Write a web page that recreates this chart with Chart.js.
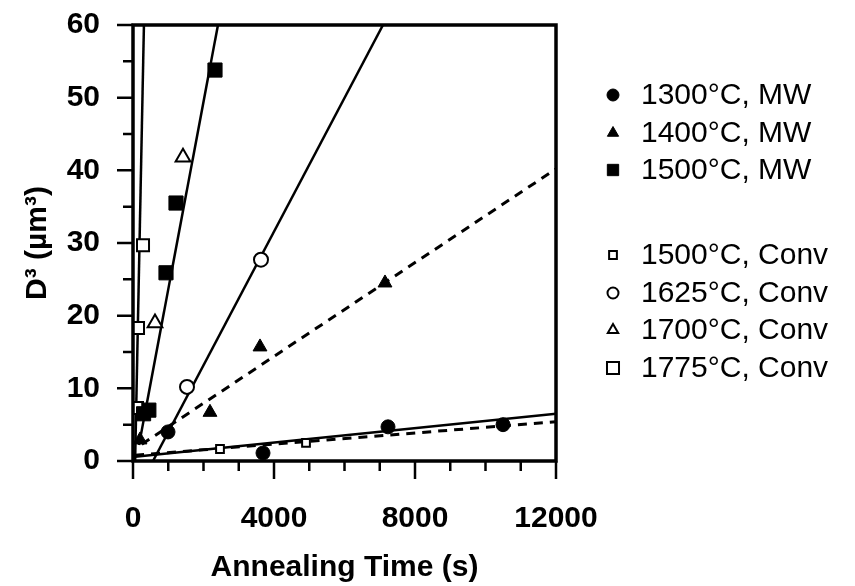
<!DOCTYPE html>
<html>
<head>
<meta charset="utf-8">
<script src="https://cdn.jsdelivr.net/npm/chart.js@4.4.0/dist/chart.umd.min.js"></script>
<style>
  html, body { margin: 0; padding: 0; background: #fff; }
  canvas { display: block; }
</style>
</head>
<body>
<canvas id="grainChart" width="855" height="586"></canvas>
<script>

// measured points, annealing time (s) vs D^3 (um^3)
var mw1300 = [{x: 993, y: 4.0}, {x: 3688, y: 1.1}, {x: 7234, y: 4.7}, {x: 10497, y: 5.0}];
var mw1400 = [{x: 199, y: 2.9}, {x: 2184, y: 6.7}, {x: 3603, y: 15.7}, {x: 7149, y: 24.5}];
var mw1500 = [{x: 300, y: 6.5}, {x: 450, y: 7.0}, {x: 936, y: 25.9}, {x: 1220, y: 35.5}, {x: 2326, y: 53.8}];
var conv1500 = [{x: 2468, y: 1.65}, {x: 4908, y: 2.5}];
var conv1625 = [{x: 1532, y: 10.2}, {x: 3631, y: 27.7}];
var conv1700 = [{x: 624, y: 19.0}, {x: 1418, y: 41.8}];
var conv1775 = [{x: 113, y: 7.3}, {x: 142, y: 18.3}, {x: 284, y: 29.7}];

// fitted lines (end points)
var fit1775 = [{x: 60, y: 0}, {x: 310, y: 60}];
var fitMw1500 = [{x: 170, y: 2.2}, {x: 2410, y: 60}];
var fit1625 = [{x: 567, y: 0}, {x: 7092, y: 60}];
var fitMw1400 = [{x: 250, y: 2.3}, {x: 12000, y: 40.2}];
var fitMw1300 = [{x: 60, y: 0.6}, {x: 12000, y: 6.5}];
var fitConv1500 = [{x: 60, y: 0.8}, {x: 12000, y: 5.4}];

var legendLabels = ['1300°C, MW', '1400°C, MW', '1500°C, MW',
                    '1500°C, Conv', '1625°C, Conv', '1700°C, Conv', '1775°C, Conv'];

var xMajor = [0, 4000, 8000, 12000];
var xMinor = [1000, 2000, 3000, 5000, 6000, 7000, 9000, 10000, 11000];
var yMajor = [0, 10, 20, 30, 40, 50, 60];
var yMinor = [5, 15, 25, 35, 45, 55];


function markers(data, style, radius, filled, legendRadius) {
  return {
    data: data,
    showLine: false,
    pointStyle: style,
    pointRadius: radius,
    pointHoverRadius: radius,
    pointBackgroundColor: filled ? '#000' : '#fff',
    pointBorderColor: '#000',
    pointBorderWidth: filled ? 1 : 2,
    legendRadius: legendRadius
  };
}

function fitLine(data, dashed) {
  return {
    data: data,
    showLine: true,
    pointRadius: 0,
    borderColor: '#000',
    borderWidth: dashed ? 3 : 2.5,
    borderDash: dashed ? [9, 7] : [],
    fill: false
  };
}

var frameTicks = {
  id: 'frameTicks',
  afterDatasetsDraw: function(chart) {
    var ctx = chart.ctx, a = chart.chartArea;
    var xs = chart.scales.x, ys = chart.scales.y;
    ctx.save();
    ctx.strokeStyle = '#000';
    ctx.lineWidth = 3.5;
    ctx.strokeRect(a.left, a.top, a.right - a.left, a.bottom - a.top);
    ctx.lineWidth = 2.5;
    ctx.beginPath();
    yMajor.forEach(function(v) {
      var p = ys.getPixelForValue(v);
      ctx.moveTo(a.left - 16, p); ctx.lineTo(a.left, p);
    });
    yMinor.forEach(function(v) {
      var p = ys.getPixelForValue(v);
      ctx.moveTo(a.left - 10, p); ctx.lineTo(a.left, p);
    });
    xMajor.forEach(function(v) {
      var p = xs.getPixelForValue(v);
      ctx.moveTo(p, a.bottom); ctx.lineTo(p, a.bottom + 18);
    });
    xMinor.forEach(function(v) {
      var p = xs.getPixelForValue(v);
      ctx.moveTo(p, a.bottom); ctx.lineTo(p, a.bottom + 10);
    });
    ctx.stroke();
    ctx.restore();
  }
};

var sideLegend = {
  id: 'sideLegend',
  afterDraw: function(chart) {
    var ctx = chart.ctx;
    var rowsY = [95, 133, 170, 255, 293, 330, 368];
    ctx.save();
    ctx.font = "30px 'Liberation Sans', Arial, sans-serif";
    ctx.textBaseline = 'middle';
    ctx.textAlign = 'left';
    legendLabels.forEach(function(label, i) {
      var ds = chart.data.datasets[i];
      ctx.fillStyle = ds.pointBackgroundColor;
      ctx.strokeStyle = '#000';
      ctx.lineWidth = ds.pointBorderWidth;
      Chart.helpers.drawPoint(ctx, {
        pointStyle: ds.pointStyle, radius: ds.legendRadius, rotation: 0, borderWidth: ds.pointBorderWidth
      }, 613, rowsY[i]);
      ctx.fillStyle = '#000';
      ctx.fillText(label, 641, rowsY[i] + 1);
    });
    ctx.restore();
  }
};

Chart.defaults.font.family = "'Liberation Sans', Arial, sans-serif";
Chart.defaults.color = '#000';

new Chart(document.getElementById('grainChart').getContext('2d'), {
  type: 'scatter',
  data: {
    datasets: [
      markers(mw1300, 'circle', 7, true, 6),
      markers(mw1400, 'triangle', 8, true, 6.5),
      markers(mw1500, 'rect', 10, true, 8),
      markers(conv1500, 'rect', 5.5, false, 5.5),
      markers(conv1625, 'circle', 7, false, 5.5),
      markers(conv1700, 'triangle', 8.5, false, 6),
      markers(conv1775, 'rect', 8.5, false, 8.5),
      fitLine(fit1775, false),
      fitLine(fitMw1500, false),
      fitLine(fit1625, false),
      fitLine(fitMw1400, true),
      fitLine(fitMw1300, false),
      fitLine(fitConv1500, true)
    ]
  },
  options: {
    responsive: false,
    animation: false,
    layout: { padding: { top: 25, right: 299, left: 0, bottom: 0 } },
    plugins: {
      legend: { display: false },
      tooltip: { enabled: false }
    },
    scales: {
      x: {
        type: 'linear',
        min: 0,
        max: 12000,
        afterFit: function(s) { s.height = 125; s.paddingLeft = 0; s.paddingRight = 0; },
        grid: { display: false, drawTicks: false },
        border: { display: false },
        ticks: {
          stepSize: 4000, padding: 40, maxRotation: 0,
          font: { size: 30, weight: 'bold' },
          callback: function(v) { return String(v); }
        },
        title: {
          display: true,
          text: 'Annealing Time (s)',
          font: { size: 30, weight: 'bold' },
          padding: { top: 0, bottom: 0 }
        }
      },
      y: {
        type: 'linear',
        min: 0,
        max: 60,
        afterFit: function(s) { s.width = 133; s.paddingTop = 0; s.paddingBottom = 0; },
        grid: { display: false, drawTicks: false },
        border: { display: false },
        ticks: { stepSize: 10, padding: 33, font: { size: 30, weight: 'bold' } },
        title: {
          display: true,
          text: 'D³ (µm³)',
          font: { size: 30, weight: 'bold' },
          padding: { top: 20, bottom: 0 }
        }
      }
    }
  },
  plugins: [frameTicks, sideLegend]
});
</script>
</body>
</html>
